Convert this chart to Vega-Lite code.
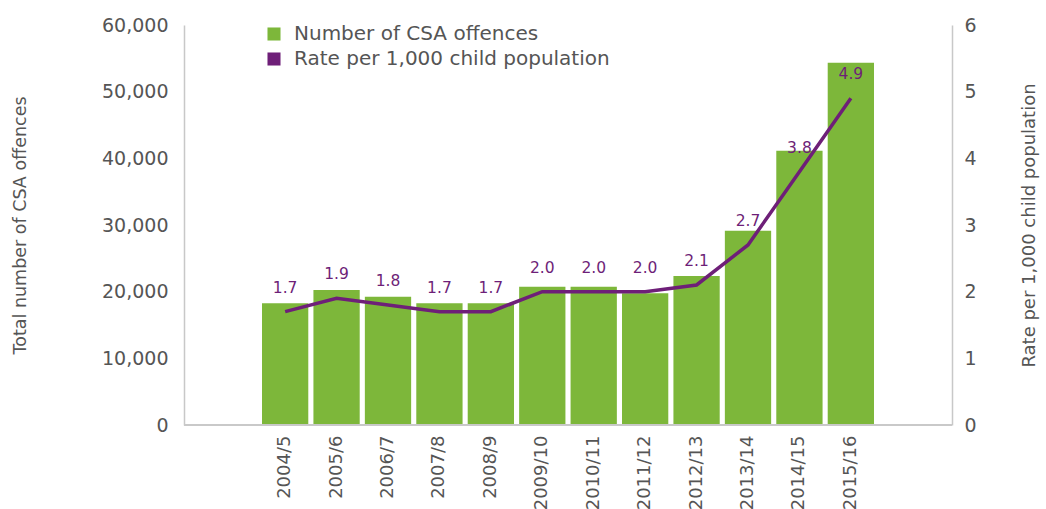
{
  "$schema": "https://vega.github.io/schema/vega-lite/v6.json",
  "autosize": {"type": "none"},
  "width": 768,
  "height": 400,
  "padding": {"left": 184, "top": 25, "right": 94, "bottom": 84},
  "background": "white",
  "config": {
    "view": {"stroke": null},
    "font": "DejaVu Sans",
    "axis": {"grid": false, "ticks": false, "domainColor": "#c8c8c8", "domainWidth": 1.5, "labelColor": "#555555", "titleColor": "#555555", "titleFontWeight": "normal"}
  },
  "data": {"values": [
    {"year": "2004/5", "offences": 18250, "rate": 1.7},
    {"year": "2005/6", "offences": 20250, "rate": 1.9},
    {"year": "2006/7", "offences": 19250, "rate": 1.8},
    {"year": "2007/8", "offences": 18250, "rate": 1.7},
    {"year": "2008/9", "offences": 18250, "rate": 1.7},
    {"year": "2009/10", "offences": 20750, "rate": 2.0},
    {"year": "2010/11", "offences": 20750, "rate": 2.0},
    {"year": "2011/12", "offences": 19750, "rate": 2.0},
    {"year": "2012/13", "offences": 22350, "rate": 2.1},
    {"year": "2013/14", "offences": 29150, "rate": 2.7},
    {"year": "2014/15", "offences": 41150, "rate": 3.8},
    {"year": "2015/16", "offences": 54350, "rate": 4.9}
  ]},
  "encoding": {
    "x": {"field": "year", "type": "ordinal", "sort": null,
      "scale": {"paddingInner": 0.1, "paddingOuter": 0, "range": [78, 690]},
      "axis": {"title": null, "domain": false, "labelAngle": 270, "labelFontSize": 18, "labelPadding": 10}}
  },
  "layer": [
    {
      "layer": [
        {
          "mark": {"type": "bar"},
          "encoding": {
            "y": {"field": "offences", "type": "quantitative",
              "scale": {"domain": [0, 60000]},
              "axis": {"orient": "left", "values": [0, 10000, 20000, 30000, 40000, 50000, 60000], "format": ",d", "labelFontSize": 19, "labelPadding": 16, "title": "Total number of CSA offences", "titleFontSize": 17.5, "titlePadding": 72}},
            "color": {"datum": "Number of CSA offences", "type": "nominal",
              "scale": {"domain": ["Number of CSA offences", "Rate per 1,000 child population"], "range": ["#7db73a", "#6e1f78"]},
              "legend": {"title": null, "orient": "none", "legendX": 80, "legendY": -1, "symbolType": "square", "symbolSize": 170, "symbolStrokeWidth": 0, "labelFontSize": 20, "labelColor": "#555555", "labelLimit": 600, "rowPadding": 5, "labelOffset": 10}}
          }
        },
        {
          "mark": {"type": "rule", "color": "#c8c8c8", "strokeWidth": 1.5},
          "encoding": {"y": {"datum": 0, "type": "quantitative"}, "x": null}
        }
      ]
    },
    {
      "layer": [
        {
          "mark": {"type": "line", "stroke": "#6e1f78", "strokeWidth": 3.5},
          "encoding": {
            "y": {"field": "rate", "type": "quantitative",
              "scale": {"domain": [0, 6]},
              "axis": {"orient": "right", "values": [0, 1, 2, 3, 4, 5, 6], "format": "d", "labelFontSize": 19, "labelPadding": 12, "title": "Rate per 1,000 child population", "titleFontSize": 18, "titlePadding": 62, "titleAngle": 270}}
          }
        },
        {
          "mark": {"type": "text", "color": "#6e1f78", "fontSize": 15.5, "dy": -24, "baseline": "middle"},
          "encoding": {
            "y": {"field": "rate", "type": "quantitative"},
            "text": {"field": "rate", "type": "quantitative", "format": ".1f"}
          }
        }
      ]
    }
  ],
  "resolve": {"scale": {"y": "independent"}}
}
